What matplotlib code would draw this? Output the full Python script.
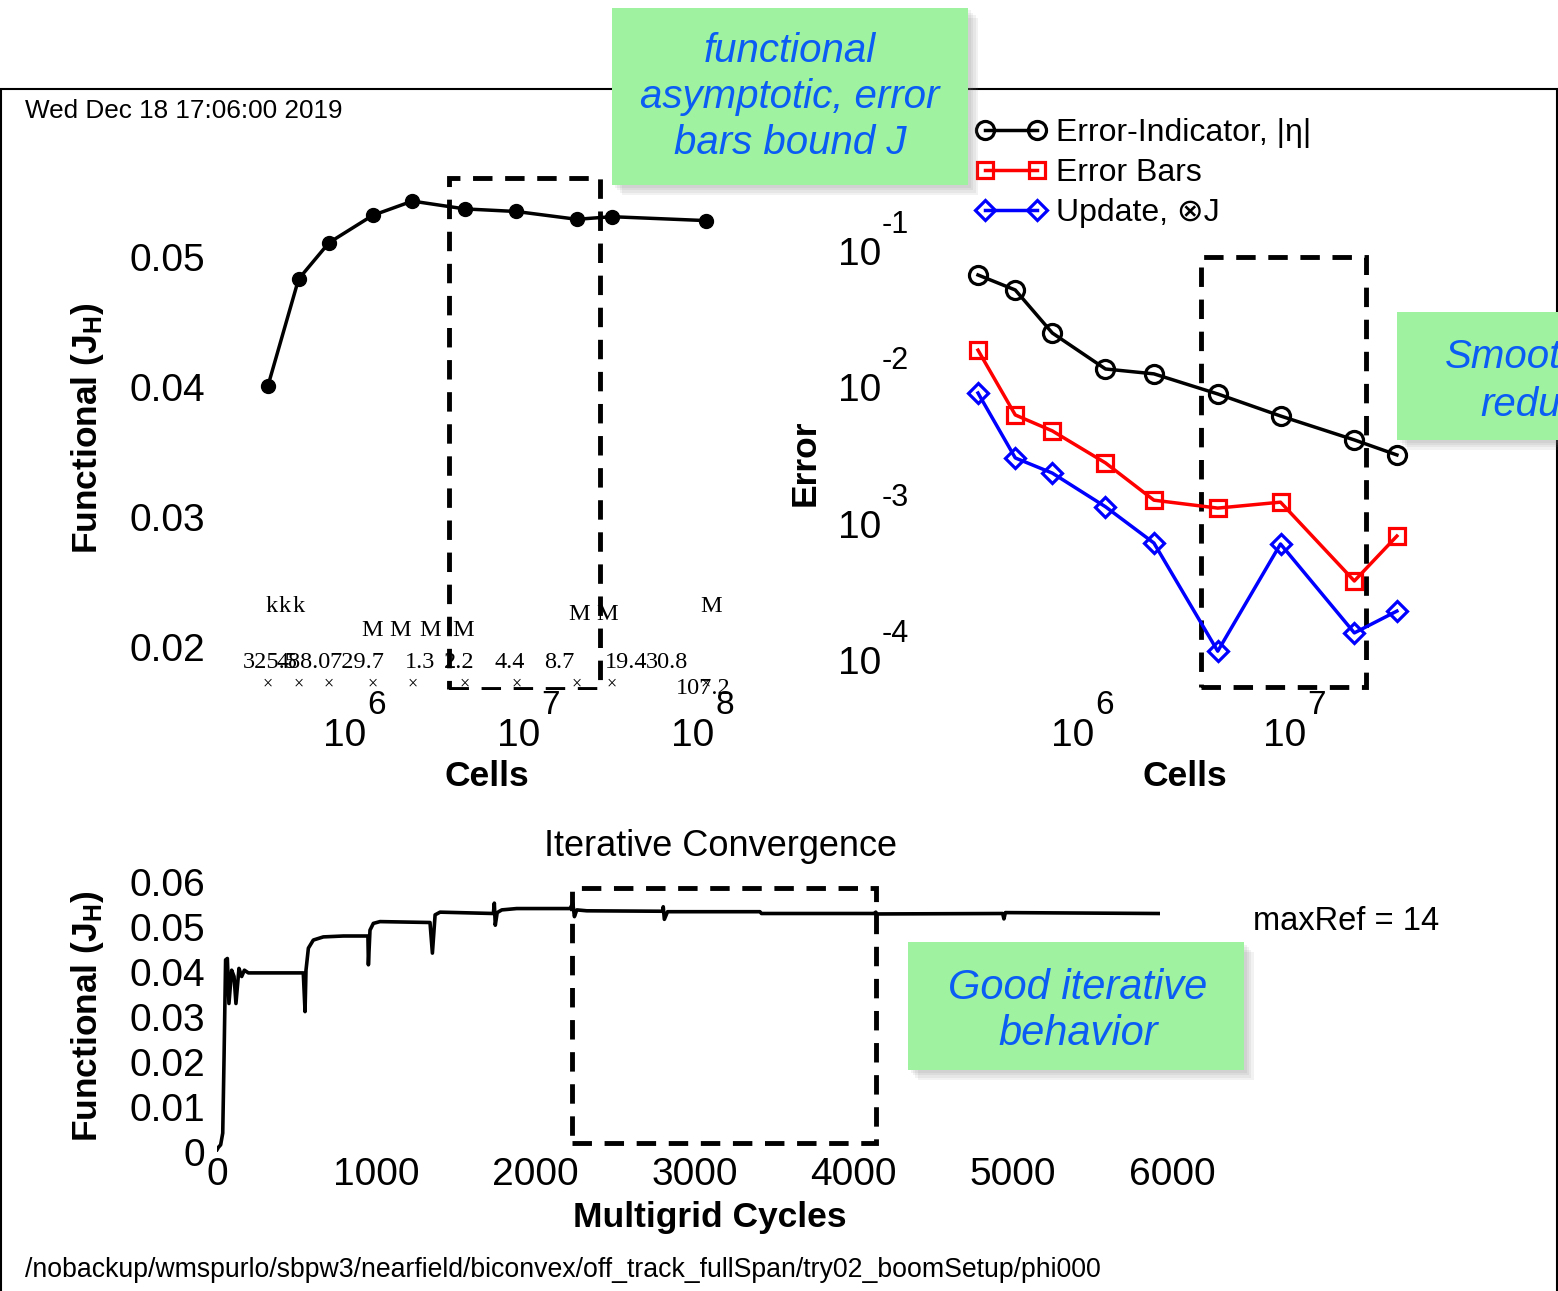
import matplotlib
matplotlib.use("Agg")
import matplotlib.pyplot as plt
from matplotlib.patches import Rectangle
from matplotlib.ticker import NullLocator, FuncFormatter

plt.rcParams['font.family'] = ['Liberation Sans', 'DejaVu Sans']
plt.rcParams['mathtext.fontset'] = 'custom'
plt.rcParams['mathtext.rm'] = 'Liberation Sans'
plt.rcParams['mathtext.bf'] = 'Liberation Sans:bold'
plt.rcParams['mathtext.it'] = 'Liberation Sans:italic'

# --- data ---
cells = [325.5e3, 488.0e3, 729.7e3, 1.3e6, 2.2e6, 4.4e6, 8.7e6, 19.4e6, 30.8e6, 107.2e6]
functional = [0.0401, 0.0483, 0.0511, 0.0532, 0.0543, 0.0537, 0.0535, 0.0529, 0.0531, 0.0528]
cell_numbers = ['325.5', '488.0', '729.7', '1.3', '2.2', '4.4', '8.7', '19.4', '30.8', '107.2']
cell_units = ['k', 'k', 'k', 'M', 'M', 'M', 'M', 'M', 'M', 'M']

err_cells = cells[:9]
error_indicator = [0.0679, 0.0527, 0.0255, 0.0139, 0.0128, 0.00912, 0.00629, 0.00420, 0.00326]
error_bars = [0.0191, 0.00640, 0.00489, 0.00285, 0.00152, 0.00133, 0.00147, 0.000389, 0.000830]
update_dj = [0.00927, 0.00310, 0.00240, 0.00136, 0.000738, 0.000119, 0.000726, 0.000162, 0.000234]

cycles = [0, 8, 23, 36, 44, 54, 65, 75, 92, 107, 119, 138, 155, 172, 197,
          542, 553, 559, 574, 605, 668, 794, 948, 951, 961, 982, 1024, 1338,
          1353, 1370, 1401, 1736, 1742, 1748, 1760, 1789, 1883, 2218, 2235,
          2245, 2260, 2323, 2798, 2803, 2810, 2830, 3410, 3420, 4130, 4138,
          4145, 4935, 4943, 4952, 5912]
cycle_functional = [0.0005, 0.0010, 0.0016, 0.0042, 0.0204, 0.0427, 0.0430, 0.0330,
                    0.0404, 0.0390, 0.0330, 0.0408, 0.0390, 0.0404, 0.0398, 0.0398,
                    0.0312, 0.0404, 0.0453, 0.0471, 0.0478, 0.0480, 0.0480, 0.0416,
                    0.0493, 0.0508, 0.0512, 0.0510, 0.0442, 0.0527, 0.0533, 0.0530,
                    0.0553, 0.0504, 0.0532, 0.0538, 0.0541, 0.0541, 0.0553, 0.0523,
                    0.0538, 0.0536, 0.0535, 0.0545, 0.0517, 0.0534, 0.0534, 0.0530,
                    0.0530, 0.0533, 0.0529, 0.0530, 0.0518, 0.0532, 0.0530]

# dashed highlight boxes (x range, y range)
box_cells = [3.57e6, 2.63e7]
box_functional = [0.01677, 0.05608]
box_err_cells = [3.67e6, 2.20e7]
box_error = [6.5e-5, 0.0919]
box_cycles = [2230, 4140]
box_cycle_functional = [0.0020, 0.05867]

# --- layout helpers (figure pixels) ---
W, H = 1558, 1291
fig = plt.figure(figsize=(W / 100, H / 100), dpi=100)


def add_ax(l, t, r, b):
    ax = fig.add_axes([l / W, 1 - b / H, (r - l) / W, (b - t) / H])
    ax.set_facecolor('none')
    for s in ax.spines.values():
        s.set_visible(False)
    ax.tick_params(length=0)
    return ax


def ftext(x, y, s, **kw):
    fig.text(x / W, 1 - y / H, s, **kw)


def dashed_box(ax, xs, ys):
    ax.add_patch(Rectangle((xs[0], ys[0]), xs[1] - xs[0], ys[1] - ys[0], fill=False,
                           ec='black', lw=3.5, ls=(0, (4, 2.6))))


def note_box(l, t, r, b):
    for k in range(1, 5):
        fig.patches.append(Rectangle(((l + 2.5 * k) / W, 1 - (b + 2.5 * k) / H), (r - l) / W,
                                     (b - t) / H, transform=fig.transFigure,
                                     fc='grey', ec='none', alpha=0.10, zorder=1))
    fig.patches.append(Rectangle((l / W, 1 - b / H), (r - l) / W, (b - t) / H,
                                 transform=fig.transFigure, fc='#9ff29f', ec='none', zorder=1.5))


note_color = '#0a5cf5'
lbl = dict(fontsize=25.5, fontweight='bold', ha='center', va='center')

# outer frame
fig.patches.append(Rectangle((1 / W, -0.01), 1555.5 / W, 1.01 - 89 / H, transform=fig.transFigure,
                             fill=False, ec='black', lw=1.5, zorder=0.5))

# --- top left: functional vs cells ---
ax1 = add_ax(215, 166, 760, 690)
ax1.set_xscale('log')
ax1.set_xlim(10 ** 5.208, 10 ** 8.3402)
ax1.set_ylim(0.016692, 0.0570)
ax1.plot(cells, functional, color='black', lw=2.5, marker='o', ms=10)
dashed_box(ax1, box_cells, box_functional)
ax1.set_yticks([0.02, 0.03, 0.04, 0.05])
ax1.yaxis.set_major_formatter(FuncFormatter(lambda v, p: f'{v:.2f}'))
ax1.tick_params(axis='y', labelsize=28, pad=7)
ax1.set_xticks([])
ax1.xaxis.set_minor_locator(NullLocator())
for d in [6, 7, 8]:
    ax1.annotate('10', xy=(10 ** d, 0), xycoords=('data', 'axes fraction'), xytext=(-8, -46),
                 textcoords='offset pixels', ha='center', va='center', fontsize=28)
    ax1.annotate(str(d), xy=(10 ** d, 0), xycoords=('data', 'axes fraction'), xytext=(24, -15),
                 textcoords='offset pixels', ha='center', va='center', fontsize=24)

# cell count labels, as jumbled in the original
num_dx = [2, 5, 28, 47, 47, 45, 43, 49, 55, -3]
num_dy = [28] * 9 + [2]
unit_dx = [4, -14, -30, -1, -12, -35, -53, 2, -5, 5]
unit_dy = [84, 84, 84, 60, 60, 60, 60, 75, 75, 84]
serif = dict(family='Liberation Serif', ha='center', va='center', textcoords='offset pixels')
for i, c in enumerate(cells):
    xy = (c, 0)
    ax1.annotate('×', xy=xy, xycoords=('data', 'axes fraction'), xytext=(0, 6), fontsize=13, **serif)
    ax1.annotate(cell_numbers[i], xy=xy, xycoords=('data', 'axes fraction'),
                 xytext=(num_dx[i], num_dy[i]), fontsize=17.5, **serif)
    ax1.annotate(cell_units[i], xy=xy, xycoords=('data', 'axes fraction'),
                 xytext=(unit_dx[i], unit_dy[i]), fontsize=17.5, **serif)

ftext(88, 428, 'Functional (J$_\\mathbf{H}$)', rotation=90, **lbl)
ftext(487, 776, 'Cells', **lbl)

# --- top right: error vs cells ---
ax2 = add_ax(920, 236, 1450, 690)
ax2.set_xscale('log')
ax2.set_yscale('log')
ax2.set_xlim(10 ** 5.239, 10 ** 7.739)
ax2.set_ylim(10 ** -4.2088, 10 ** -0.8828)
ax2.plot(err_cells, error_indicator, color='black', lw=2.5, marker='o', ms=13, mfc='none',
         mew=2.3, label='Error-Indicator, |η|')
ax2.plot(err_cells, error_bars, color='#ff0000', lw=2.5, marker='s', ms=11.5, mfc='none',
         mew=2.3, label='Error Bars')
ax2.plot(err_cells, update_dj, color='#0000ff', lw=2.5, marker='D', ms=10, mfc='none',
         mew=2.3, label='Update, ⊗J')
dashed_box(ax2, box_err_cells, box_error)
ax2.set_xticks([])
ax2.set_yticks([])
ax2.xaxis.set_minor_locator(NullLocator())
ax2.yaxis.set_minor_locator(NullLocator())
for d in [6, 7]:
    ax2.annotate('10', xy=(10 ** d, 0), xycoords=('data', 'axes fraction'), xytext=(-9, -46),
                 textcoords='offset pixels', ha='center', va='center', fontsize=28)
    ax2.annotate(str(d), xy=(10 ** d, 0), xycoords=('data', 'axes fraction'), xytext=(23, -15),
                 textcoords='offset pixels', ha='center', va='center', fontsize=24)
for e in [-1, -2, -3, -4]:
    ax2.annotate('10', xy=(0, 10.0 ** e), xycoords=('axes fraction', 'data'), xytext=(-60, -3),
                 textcoords='offset pixels', ha='center', va='center', fontsize=28)
    ax2.annotate(str(e), xy=(0, 10.0 ** e), xycoords=('axes fraction', 'data'), xytext=(-25, 27),
                 textcoords='offset pixels', ha='center', va='center', fontsize=22)
ax2.legend(loc='upper left', bbox_to_anchor=(975 / W, 1 - 118 / H), bbox_transform=fig.transFigure,
           frameon=False, fontsize=23, numpoints=2, handlelength=2.23, handletextpad=0.31,
           labelspacing=0.31, borderpad=0, borderaxespad=0)
ftext(805, 463, 'Error', rotation=90, **lbl)
ftext(1185, 776, 'Cells', **lbl)

# --- bottom: iterative convergence ---
ax3 = add_ax(217, 882, 1212, 1152)
ax3.set_xlim(0, 6250)
ax3.set_ylim(0, 0.06)
ax3.plot(cycles, cycle_functional, color='black', lw=2.6)
dashed_box(ax3, box_cycles, box_cycle_functional)
ax3.set_xticks([0, 1000, 2000, 3000, 4000, 5000, 6000])
ax3.set_yticks([0, 0.01, 0.02, 0.03, 0.04, 0.05, 0.06])
ax3.yaxis.set_major_formatter(FuncFormatter(lambda v, p: '0' if v == 0 else f'{v:.2f}'))
ax3.tick_params(axis='x', labelsize=28, pad=3.6)
ax3.tick_params(axis='y', labelsize=28, pad=8.5)
ftext(720, 847, 'Iterative Convergence', fontsize=26, ha='center', va='center')
ftext(710, 1218, 'Multigrid Cycles', **lbl)
ftext(88, 1016, 'Functional (J$_\\mathbf{H}$)', rotation=90, **lbl)
ftext(1253, 921, 'maxRef = 14', fontsize=23.5, ha='left', va='center')

# --- page texts ---
ftext(25, 111, 'Wed Dec 18 17:06:00 2019', fontsize=18.8, ha='left', va='center')
ftext(25, 1270, '/nobackup/wmspurlo/sbpw3/nearfield/biconvex/off_track_fullSpan/try02_boomSetup/phi000',
      fontsize=19.2, ha='left', va='center')

# --- green notes ---
note = dict(color=note_color, style='italic', zorder=3)
note_box(612, 8, 968, 185)
ftext(790, 97, 'functional\nasymptotic, error\nbars bound J', fontsize=29, ha='center',
      va='center', linespacing=1.28, **note)
note_box(1397, 312, 1575, 440)
ftext(1445, 357, 'Smoot', fontsize=29, ha='left', va='center', **note)
ftext(1480, 405, 'redu', fontsize=29, ha='left', va='center', **note)
note_box(908, 942, 1244, 1070)
ftext(1078, 1011, 'Good iterative\nbehavior', fontsize=30, ha='center', va='center',
      linespacing=1.2, **note)

fig.savefig('out.png', dpi=100)
